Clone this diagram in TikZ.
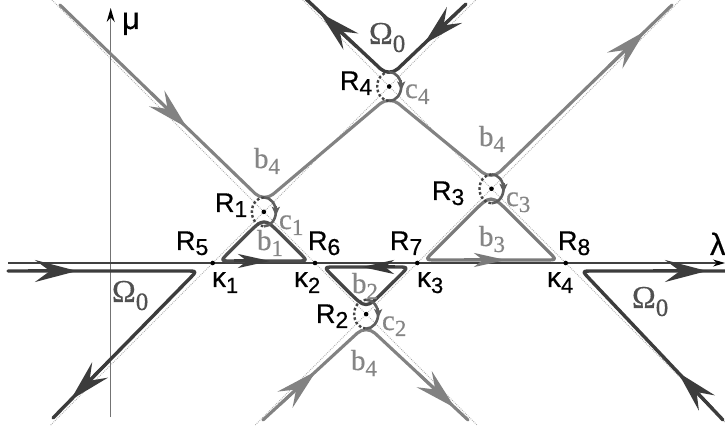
\documentclass[tikz,border=0pt]{standalone}
\usepackage{fontspec}
\usetikzlibrary{arrows.meta,calc}
\newfontfamily\sanslbl{Liberation Sans}[FakeBold=0.5]
\newfontfamily\seriflbl{Liberation Serif}[FakeBold=0.4]
\definecolor{omgc}{HTML}{3C3C3C}
\definecolor{bfc}{HTML}{828282}
\definecolor{loopA}{HTML}{4D4D4D}
\definecolor{loopD}{HTML}{454545}
\definecolor{loopB}{HTML}{7A7A7A}
\definecolor{csol}{HTML}{5E5E5E}
\definecolor{lblgray}{HTML}{858585}
\definecolor{omlbl}{HTML}{505050}
\definecolor{dotc}{HTML}{A8A8A8}
\newcommand\Rlab[1]{{\sanslbl\fontsize{27}{27}\selectfont R\raisebox{-5pt}{\fontsize{23}{23}\selectfont #1}}}
\newcommand\klab[1]{{\sanslbl\fontsize{28}{28}\selectfont κ\raisebox{-6pt}{\fontsize{22}{22}\selectfont #1}}}
\newcommand\slab[2]{{\seriflbl\fontsize{29}{29}\selectfont #1\raisebox{-6pt}{\fontsize{23}{23}\selectfont #2}}}
\newcommand\Olab{{\seriflbl\fontsize{32}{32}\selectfont Ω\raisebox{-8pt}{\fontsize{25}{25}\selectfont 0}}}
\newcommand\cloopat[1]{%
  \begin{scope}[shift={(#1)}]
    \draw[csolid] (0,-14.5) .. controls (6.6,-14.5) and (12,-8) .. (12,0) .. controls (12,8) and (6.6,14.5) .. (0,14.5);
    \draw[cdash] (0,-14.5) .. controls (-6.6,-14.5) and (-12,-8) .. (-12,0) .. controls (-12,8) and (-6.6,14.5) .. (0,14.5);
    \draw[carr] (12,-6) -- (12,4);
  \end{scope}}
\tikzset{
  dotl/.style={draw=dotc, line width=0.8pt, dash pattern=on 0.8pt off 1.2pt},
  omg/.style={draw=omgc, line width=3.4pt, line cap=round, line join=round},
  bfour/.style={draw=bfc, line width=3.1pt, line cap=round, line join=round, rounded corners=12pt},
  loopa/.style={draw=loopA, line width=3.3pt, line join=round},
  loopd/.style={draw=loopD, line width=3.3pt, line join=round},
  loopb/.style={draw=loopB, line width=3.2pt, line join=round},
  csolid/.style={draw=csol, line width=2.6pt},
  cdash/.style={draw=loopD, line width=2.4pt, dash pattern=on 2.6pt off 2.2pt},
  carr/.style={draw=csol, line width=2pt, -{Stealth[length=9pt,width=8pt,inset=2pt]}},
  bigarr/.style={line width=3pt, -{Stealth[length=42pt,width=22pt,inset=15pt]}},
  smallarr/.style={line width=3pt, -{Stealth[length=32pt,width=14pt,inset=9pt]}},
  lbl/.style={inner sep=0pt, outer sep=0pt, anchor=base west},
  dot/.style={circle, fill=black, inner sep=0pt, minimum size=4.6pt},
}
\begin{document}
\begin{tikzpicture}[x=1pt,y=-1pt]
\useasboundingbox (0,0) rectangle (725,427);
\fill[white] (0,0) rectangle (725,427);
% key points
\coordinate (K1) at (212.7,263);
\coordinate (K2) at (315,263);
\coordinate (K3) at (417.3,263);
\coordinate (K4) at (565.7,263);
\coordinate (R1) at (263.85,211.85);
\coordinate (R2) at (366.15,314.15);
\coordinate (R3) at (491.5,188.8);
\coordinate (R4) at (389.2,86.5);
% corner points of the separatrices
\coordinate (V1) at (263.85,202);
\coordinate (V4) at (389.2,96);
\coordinate (V3) at (491.5,180);
\coordinate (V2) at (366.15,325);
\coordinate (VO) at (389.2,77);
\coordinate (bTL) at (60,5);
\coordinate (bTR) at (672,5);
\coordinate (bBL) at (263,420);
\coordinate (bBR) at (468,420);
\coordinate (oTL) at (306,-1);
\coordinate (oTR) at (466,4);
% dotted skeleton lines
\draw[dotl] (50.7,425) -- (K1) -- (R1) -- (R4) -- (475.7,0);
\draw[dotl] (52,0) -- (R1) -- (K2) -- (R2) -- (477,425);
\draw[dotl] (255.3,425) -- (R2) -- (K3) -- (R3) -- (680.3,0);
\draw[dotl] (302.7,0) -- (R4) -- (R3) -- (K4) -- (725,422.3);
% axes
\draw[draw=gray!90!black, line width=1.3pt, -{Stealth[length=14pt,width=8pt,color=black]}] (110.7,417) -- (110.7,8);
\draw[draw=black!75, line width=1.1pt, -{Stealth[length=12pt,width=7pt,color=black]}] (8,263) -- (725,263);
% b4 separatrices
\draw[bfour] (bTL) -- (V1) -- (V4) -- (V3) -- (bTR);
\draw[bfour] (bBL) -- (V2) -- (bBR);
% Omega_0 curves
\draw[omg] (8,271) -- (186,271) .. controls (197,271) .. (189.3,278.9) -- (53,418);
\draw[omg] (723,420) -- (589.6,279) .. controls (582,271) .. (593,271) -- (725,271);
\draw[omg, rounded corners=12pt] (oTL) -- (VO) -- (oTR);
% loops b1, b2, b3
\draw[loopa] (264,261) -- (295.7,261) .. controls (307.7,261) .. (299.2,252.5) -- (282.4,235.7) .. controls (264,217.3) .. (245.6,235.7) -- (228.8,252.5) .. controls (220.3,261) .. (232.3,261) -- cycle;
\draw[loopd] (366,267) -- (335.8,267) .. controls (323.8,267) .. (332.3,275.5) -- (347.6,290.8) .. controls (366,309.2) .. (384.4,290.8) -- (399.9,275.5) .. controls (408.4,267) .. (396.4,267) -- cycle;
\draw[loopb] (491,260) -- (544.9,260) .. controls (556.9,260) .. (548.4,251.5) -- (510.8,213.9) .. controls (491,194.1) .. (471.2,213.9) -- (433.6,251.5) .. controls (425.1,260) .. (437.1,260) -- cycle;
% c loops
\cloopat{R1}
\cloopat{R2}
\cloopat{R3}
\cloopat{R4}
% arrows
\draw[bigarr, omgc] (28,271) -- (77,271);
\draw[bigarr, omgc] ($(70.6,400)!50pt!(189.3,278.9)$) -- (70.6,400);
\draw[bigarr, omgc] ($(320,13)!50pt!(VO)$) -- (320,13);
\draw[bigarr, omgc] ($(424,43.9)!45pt!(oTR)$) -- (424,43.9);
\draw[bigarr, bfc] ($(187,127.7)!50pt!(bTL)$) -- (187,127.7);
\draw[bigarr, bfc] ($(645,31.2)!50pt!(V3)$) -- (645,31.2);
\draw[bigarr, bfc] ($(316,371.2)!50pt!(bBL)$) -- (316,371.2);
\draw[bigarr, bfc] ($(455,407.9)!50pt!(V2)$) -- (455,407.9);
\draw[bigarr, omgc] ($(678,372.4)!50pt!(723,420)$) -- (678,372.4);
\draw[bigarr, omgc] (653,271) -- (707,271);
\draw[smallarr, loopA!80!black] (234,261) -- (270,261);
\draw[smallarr, loopD!80!black] (395,267) -- (362,267);
\draw[smallarr, loopB] (464,260) -- (506,260);
% points
\foreach \p in {K1,K2,K3,K4,R1,R2,R3,R4} \node[dot] (d\p) at (\p) {};
% labels
\node[lbl] (lmu) at (122,29) {\sanslbl\fontsize{31}{31}\selectfont μ};
\node[lbl] (llam) at (710,255) {\sanslbl\fontsize{31}{31}\selectfont λ};
\node[lbl] (lR5) at (176,250) {\Rlab{5}};
\node[lbl] (lR6) at (308,250) {\Rlab{6}};
\node[lbl] (lR7) at (390,250) {\Rlab{7}};
\node[lbl] (lR8) at (558,250) {\Rlab{8}};
\node[lbl] (lR1) at (215,212) {\Rlab{1}};
\node[lbl] (lR2) at (316,323) {\Rlab{2}};
\node[lbl] (lR3) at (432,200) {\Rlab{3}};
\node[lbl] (lR4) at (340,90) {\Rlab{4}};
\node[lbl] (lk1) at (212,287) {\klab{1}};
\node[lbl] (lk2) at (294,287) {\klab{2}};
\node[lbl] (lk3) at (417,287) {\klab{3}};
\node[lbl] (lk4) at (547,287) {\klab{4}};
\node[lbl, text=lblgray] (lc1) at (279,229) {\slab{c}{1}};
\node[lbl, text=lblgray] (lc2) at (382,330) {\slab{c}{2}};
\node[lbl, text=lblgray] (lc3) at (506,206) {\slab{c}{3}};
\node[lbl, text=lblgray] (lc4) at (405,98) {\slab{c}{4}};
\node[lbl, text=lblgray] (lb1) at (257,250) {\slab{b}{1}};
\node[lbl, text=lblgray] (lb2) at (352,293) {\slab{b}{2}};
\node[lbl, text=lblgray] (lb3) at (479,246) {\slab{b}{3}};
\node[lbl, text=lblgray] (lb4a) at (254,168) {\slab{b}{4}};
\node[lbl, text=lblgray] (lb4b) at (479,146) {\slab{b}{4}};
\node[lbl, text=lblgray] (lb4c) at (351,370) {\slab{b}{4}};
\node[lbl, text=omlbl] (lO1) at (369,44) {\Olab};
\node[lbl, text=omlbl] (lO2) at (112,302) {\Olab};
\node[lbl, text=omlbl] (lO3) at (632,308) {\Olab};
\end{tikzpicture}
\end{document}
